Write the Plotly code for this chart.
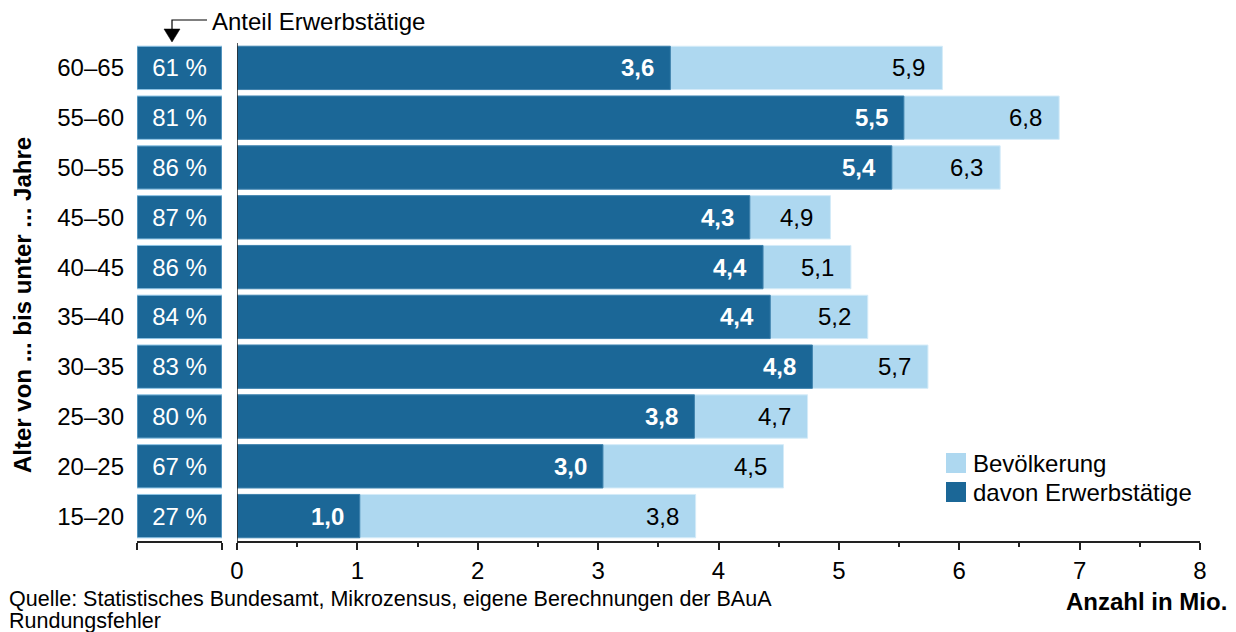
import plotly.graph_objects as go

# ---- data ----
age_groups = ["15–20", "20–25", "25–30", "30–35", "35–40",
              "40–45", "45–50", "50–55", "55–60", "60–65"]
population = [3.81, 4.54, 4.74, 5.74, 5.24, 5.10, 4.93, 6.34, 6.83, 5.86]
employed = [1.02, 3.04, 3.80, 4.78, 4.43, 4.37, 4.26, 5.44, 5.54, 3.60]
share_pct = [27, 67, 80, 83, 84, 86, 87, 86, 81, 61]
x_ticks = [0, 1, 2, 3, 4, 5, 6, 7, 8]
legend_names = ["Bevölkerung", "davon Erwerbstätige"]

# ---- style ----
DARK = "#1b6797"
LIGHT = "#aed8f0"
FONT = "Liberation Sans, Arial, sans-serif"
FS = 24
FS_SRC = 21.5

W, H = 1236, 632
L, R, T, B = 137, 1200, 43, 541


def px(x):
    return (x - L) / (R - L)


def py(y):
    return (B - y) / (B - T)


def fmt(v):
    return f"{v:.1f}".replace(".", ",")


fig = go.Figure()

fig.add_trace(go.Bar(
    y=age_groups, x=population, orientation="h", name=legend_names[0],
    marker=dict(color=LIGHT, line=dict(color="#d4ebf8", width=1)),
    xaxis="x", yaxis="y", hoverinfo="x+y", showlegend=False,
))
fig.add_trace(go.Bar(
    y=age_groups, x=employed, orientation="h", name=legend_names[1],
    marker=dict(color=DARK, line=dict(color="#3f82ad", width=1)),
    xaxis="x", yaxis="y", hoverinfo="x+y", showlegend=False,
))
# share boxes on the left
fig.add_trace(go.Bar(
    y=age_groups, x=[1] * len(age_groups), orientation="h",
    marker=dict(color=DARK, line=dict(color="#8cc3e4", width=1)),
    text=[f"{p} %" for p in share_pct], textposition="inside",
    insidetextanchor="middle",
    textfont=dict(color="white", size=FS, family=FONT),
    xaxis="x2", yaxis="y", showlegend=False, hoverinfo="text",
))

annotations = []
for g, p, e in zip(age_groups, population, employed):
    annotations.append(dict(x=p, y=g, xref="x", yref="y", text=fmt(p),
                            xanchor="right", xshift=-15, showarrow=False,
                            font=dict(size=FS, color="black", family=FONT)))
    annotations.append(dict(x=e, y=g, xref="x", yref="y", text=f"<b>{fmt(e)}</b>",
                            xanchor="right", xshift=-14, showarrow=False,
                            font=dict(size=FS, color="white", family=FONT)))

annotations += [
    dict(x=px(210), y=py(22), xref="paper", yref="paper", text="Anteil Erwerbstätige",
         xanchor="left", yanchor="middle", showarrow=False,
         font=dict(size=FS, color="black", family=FONT)),
    dict(x=px(1229), y=py(601), xref="paper", yref="paper", text="<b>Anzahl in Mio.</b>",
         xanchor="right", yanchor="middle", showarrow=False,
         font=dict(size=FS, color="black", family=FONT)),
    dict(x=px(7), y=py(599), xref="paper", yref="paper",
         text="Quelle: Statistisches Bundesamt, Mikrozensus, eigene Berechnungen der BAuA",
         xanchor="left", yanchor="middle", showarrow=False,
         font=dict(size=FS_SRC, color="black", family=FONT)),
    dict(x=px(7), y=py(621), xref="paper", yref="paper", text="Rundungsfehler",
         xanchor="left", yanchor="middle", showarrow=False,
         font=dict(size=FS_SRC, color="black", family=FONT)),
    dict(x=px(22), y=py(305), xref="paper", yref="paper",
         text="<b>Alter von ... bis unter ... Jahre</b>", textangle=-90,
         xanchor="center", yanchor="middle", showarrow=False,
         font=dict(size=FS, color="black", family=FONT)),
]

shapes = [
    # vertical axis line of main panel
    dict(type="line", xref="x", yref="paper", x0=0, x1=0, y0=0, y1=1,
         line=dict(color="#222", width=1.5)),
    # arrow for "Anteil Erwerbstätige"
    dict(type="path", xref="paper", yref="paper",
         path=f"M{px(207)},{py(20)} L{px(172)},{py(20)} L{px(172)},{py(30)}",
         line=dict(color="black", width=1.2)),
    dict(type="path", xref="paper", yref="paper",
         path=f"M{px(164)},{py(29)} L{px(180)},{py(29)} L{px(172)},{py(42)} Z",
         fillcolor="black", line=dict(color="black", width=0.5)),
]

# custom legend (larger swatches than plotly's native legend)
for i, (name, col) in enumerate(zip(legend_names, [LIGHT, DARK])):
    top = 453 + i * 29
    shapes.append(dict(type="rect", xref="paper", yref="paper",
                       x0=px(946), x1=px(966), y0=py(top + 20), y1=py(top),
                       fillcolor=col, line=dict(width=0)))
    annotations.append(dict(x=px(971), y=py(top + 10), xref="paper", yref="paper",
                            text=name, xanchor="left", yanchor="middle",
                            showarrow=False,
                            font=dict(size=FS, color="black", family=FONT)))

fig.update_layout(
    width=W, height=H,
    margin=dict(l=L, r=W - R, t=T, b=H - B, pad=0),
    paper_bgcolor="white", plot_bgcolor="white",
    barmode="overlay", bargap=0.13,
    font=dict(family=FONT, size=FS, color="black"),
    showlegend=False,
    xaxis=dict(domain=[px(237), 1], range=[0, 8], tickvals=x_ticks,
               ticktext=[str(t) for t in x_ticks],
               showgrid=False, zeroline=False, showline=True,
               linecolor="#222", linewidth=1.5,
               ticks="outside", ticklen=7, tickcolor="#222", tickwidth=1.5,
               minor=dict(tickvals=[0.5 + i for i in range(8)], ticks="outside",
                          ticklen=4, tickcolor="#222", tickwidth=1.5),
               tickfont=dict(size=FS, family=FONT), anchor="y", fixedrange=True),
    xaxis2=dict(domain=[0, px(222)], range=[0, 1], tickvals=[0, 1],
                showticklabels=False, showgrid=False, zeroline=False,
                showline=True, linecolor="#222", linewidth=1.5,
                ticks="outside", ticklen=7, tickcolor="#222", tickwidth=1.5,
                anchor="y", fixedrange=True),
    yaxis=dict(categoryorder="array", categoryarray=age_groups,
               range=[-0.5, len(age_groups) - 0.5],
               showgrid=False, zeroline=False, showline=False,
               ticks="", ticklabelstandoff=12,
               tickfont=dict(size=FS, family=FONT), anchor="x2",
               fixedrange=True),
    annotations=annotations, shapes=shapes,
)

fig.write_html("out.html",
               config={"displayModeBar": False},
               post_script="document.body.style.margin='0';"
                           "document.body.style.overflow='hidden';")
